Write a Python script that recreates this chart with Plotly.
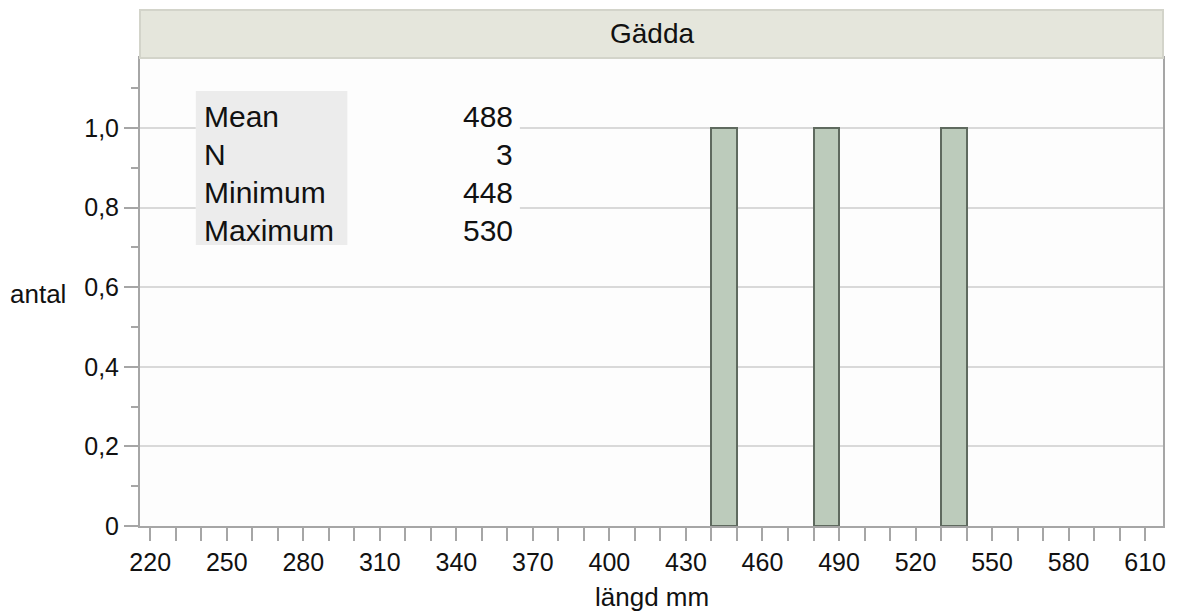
import plotly.graph_objects as go

# histogram bins (start of each bin, mm) and counts
bin_starts = [440, 480, 530]
bin_width = 10
counts = [1, 1, 1]

x_ticks = [220, 250, 280, 310, 340, 370, 400, 430, 460, 490, 520, 550, 580, 610]
y_ticks = [0, 0.2, 0.4, 0.6, 0.8, 1.0]
y_tick_text = ["0", "0,2", "0,4", "0,6", "0,8", "1,0"]

stat_names = ["Mean", "N", "Minimum", "Maximum"]
stat_values = ["488", "3", "448", "530"]

FONT = "Liberation Sans, Arial, Helvetica, sans-serif"
AXIS_COL = "#a6a6a6"

# plot area in pixels: left 140, right 1166, top 58, bottom 526
L, R, T, B = 140, 1166, 58, 526
W, H = R - L, B - T


def px(x):
    return (x - L) / W


def py(y):
    return (B - y) / H


fig = go.Figure()
fig.add_trace(go.Bar(
    x=bin_starts, y=counts, width=bin_width, offset=0,
    marker=dict(color="#bccbbb", line=dict(color="#5f6a5f", width=2)),
    showlegend=False, hoverinfo="x+y",
))

fig.update_layout(
    width=1178, height=615,
    margin=dict(l=L, r=1178 - R, t=T, b=615 - B),
    paper_bgcolor="white", plot_bgcolor="#fdfdfd",
    font=dict(family=FONT, size=25, color="#111"),
    bargap=0,
)
fig.update_xaxes(
    range=[216.0, 617.0], tickvals=x_ticks,
    ticks="outside", ticklen=13, tickwidth=2, tickcolor=AXIS_COL,
    minor=dict(dtick=10, tick0=220, ticks="outside", ticklen=13, tickwidth=2,
               tickcolor=AXIS_COL, showgrid=False),
    showline=True, linecolor=AXIS_COL, linewidth=2, mirror=True,
    showgrid=False, zeroline=False, tickfont=dict(size=25),
)
fig.update_yaxes(
    range=[0, 1.176], tickvals=y_ticks, ticktext=y_tick_text,
    ticks="outside", ticklen=14, tickwidth=2, tickcolor=AXIS_COL,
    minor=dict(dtick=0.1, ticks="outside", ticklen=7, tickwidth=2,
               tickcolor=AXIS_COL, showgrid=False),
    showline=True, linecolor=AXIS_COL, linewidth=2, mirror=True,
    showgrid=True, gridcolor="#d9d9d9", gridwidth=2, zeroline=False,
    tickfont=dict(size=25),
)

# title strip
fig.add_shape(type="rect", xref="paper", yref="paper",
              x0=0, x1=1, y0=1, y1=py(10),
              fillcolor="#e5e6dc", line=dict(color="#d3d4ca", width=2))
fig.add_annotation(text="Gädda", xref="paper", yref="paper",
                   x=0.5, y=py(34), showarrow=False,
                   font=dict(size=28), xanchor="center", yanchor="middle")

# stats table
fig.add_shape(type="rect", xref="paper", yref="paper", layer="above",
              x0=px(196), x1=px(521), y0=py(245), y1=py(91),
              fillcolor="#fdfdfd", line=dict(width=0))
fig.add_shape(type="rect", xref="paper", yref="paper", layer="above",
              x0=px(196), x1=px(348), y0=py(245), y1=py(91),
              fillcolor="#ececec", line=dict(width=0))
row_y = [116, 154, 192, 230]
for name, val, ry in zip(stat_names, stat_values, row_y):
    fig.add_annotation(text=name, xref="paper", yref="paper",
                       x=px(202), y=py(ry), showarrow=False,
                       xanchor="left", yanchor="middle", font=dict(size=30))
    fig.add_annotation(text=val, xref="paper", yref="paper",
                       x=px(516), y=py(ry), showarrow=False,
                       xanchor="right", yanchor="middle", font=dict(size=30))

# axis titles
fig.add_annotation(text="antal", xref="paper", yref="paper",
                   x=px(38), y=py(294), showarrow=False,
                   xanchor="center", yanchor="middle", font=dict(size=26))
fig.add_annotation(text="längd mm", xref="paper", yref="paper",
                   x=0.5, y=py(597), showarrow=False,
                   xanchor="center", yanchor="middle", font=dict(size=26))

fig.write_html("out.html", config={"displayModeBar": False},
               post_script="document.body.style.margin='0';")
